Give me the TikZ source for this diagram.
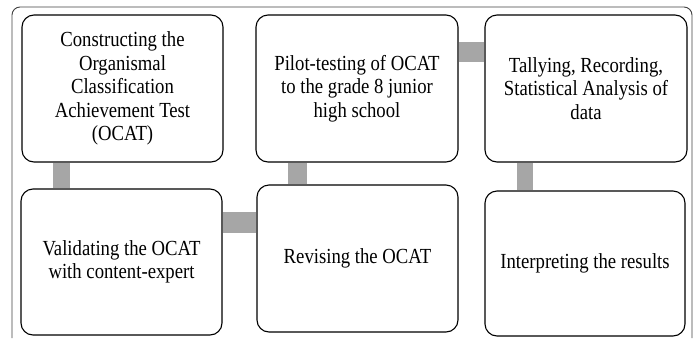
\documentclass[tikz,border=0pt]{standalone}
\usepackage{fontspec}
\setmainfont{Liberation Serif}[FakeStretch=0.87]
\usetikzlibrary{backgrounds}
\begin{document}
\begin{tikzpicture}[x=1pt,y=-1pt,
  stepbox/.style={draw=black,line width=1.1pt,rounded corners=12pt,fill=white,
    align=center,inner sep=0pt,
    font=\fontsize{21.5pt}{23.5pt}\selectfont},
  conn/.style={draw=black!35,line cap=butt},
  frame/.style={draw=black!75,line width=0.9pt,rounded corners=8pt}]
\useasboundingbox (0,0) rectangle (696,338);
\draw[frame] (12,338) -- (12,7) -- (692,7) -- (692,338);
\node[stepbox,minimum width=201pt,minimum height=147pt] (b1) at (122.5,88.5)
  {Constructing the\\Organismal\\Classification\\Achievement Test\\(OCAT)};
\node[stepbox,minimum width=202pt,minimum height=147pt] (b2) at (357,88.5)
  {Pilot-testing of OCAT\\to the grade 8 junior\\high school};
\node[stepbox,minimum width=202pt,minimum height=147pt] (b3) at (586,88.5)
  {Tallying, Recording,\\Statistical Analysis of\\data};
\node[stepbox,minimum width=201pt,minimum height=146pt] (b4) at (121.5,262)
  {Validating the OCAT\\with content-expert};
\node[stepbox,minimum width=201pt,minimum height=147pt] (b5) at (357.5,258.5)
  {Revising the OCAT};
\node[stepbox,minimum width=200pt,minimum height=145pt] (b6) at (585,263.5)
  {Interpreting the results};
\coordinate (c1) at (61.5,0);
\coordinate (c2) at (0,222.5);
\coordinate (c3) at (297.5,0);
\coordinate (c4) at (0,52);
\coordinate (c5) at (525,0);
\begin{scope}[on background layer]
\draw[conn,line width=17pt] (b1.south -| c1) -- (b4.north -| c1);
\draw[conn,line width=21pt] (b4.east |- c2) -- (b5.west |- c2);
\draw[conn,line width=19pt] (b5.north -| c3) -- (b2.south -| c3);
\draw[conn,line width=20pt] (b2.east |- c4) -- (b3.west |- c4);
\draw[conn,line width=16pt] (b3.south -| c5) -- (b6.north -| c5);
\end{scope}
\end{tikzpicture}
\end{document}
